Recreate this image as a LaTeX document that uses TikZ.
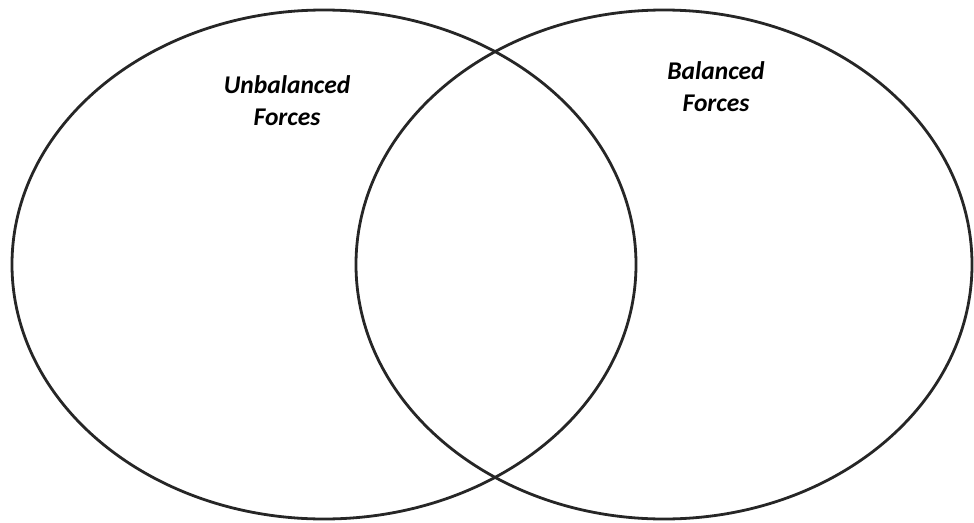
\documentclass[tikz,border=0pt]{standalone}
\usepackage{fontspec}
\setmainfont{Carlito}
\begin{document}
\begin{tikzpicture}[x=1pt,y=-1pt,
  venn/.style={draw=black!85,line width=2.8pt},
  lbl/.style={font=\fontsize{25.5}{32}\selectfont\bfseries\itshape,align=center,inner sep=0pt}]
\useasboundingbox (0,0) rectangle (974,522);
\draw[venn] (324,264.5) ellipse [x radius=312, y radius=254.5];
\draw[venn] (664,264.5) ellipse [x radius=308, y radius=254.5];
\node[lbl] (u) at (287,101) {Unbalanced\\Forces};
\node[lbl] (b) at (716,87) {Balanced\\Forces};
\end{tikzpicture}
\end{document}
